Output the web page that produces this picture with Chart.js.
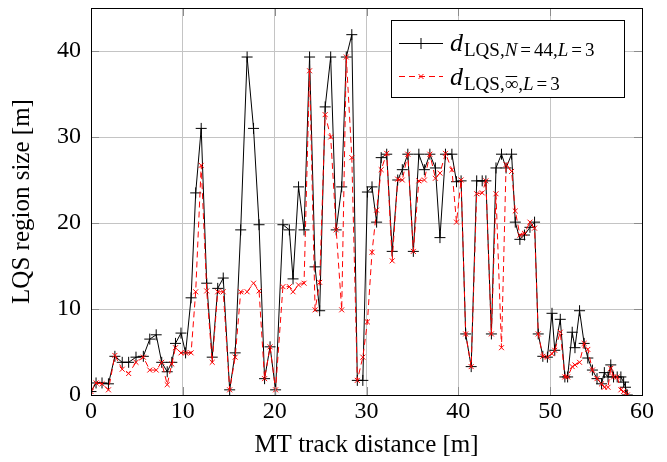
<!DOCTYPE html>
<html>
<head>
<meta charset="utf-8">
<script src="https://cdn.jsdelivr.net/npm/chart.js@4.4.1/dist/chart.umd.min.js"></script>
<style>html,body{margin:0;padding:0;background:#fff}</style>
</head>
<body>
<canvas id="lqsChart" width="667" height="462"></canvas>
<script>
// MT track distance [m]
const trackDist = [0.0, 0.55, 1.2, 1.9, 2.6, 3.4, 4.1, 4.9, 5.7, 6.4, 7.1, 7.7, 8.3, 8.8, 9.2, 9.8,
  10.3, 10.9, 11.4, 12.0, 12.6, 13.2, 13.8, 14.4, 15.1, 15.7, 16.3, 17.0, 17.7, 18.3, 18.9, 19.5,
  20.1, 20.9, 21.6, 22.0, 22.6, 23.2, 23.8, 24.4, 24.9, 25.5, 26.1, 26.7, 27.3, 27.8, 28.4, 29.0,
  29.6, 30.1, 30.6, 31.1, 31.6, 32.2, 32.8, 33.4, 33.9, 34.5, 35.1, 35.7, 36.3, 36.9, 37.5, 38.0,
  38.6, 39.3, 39.8, 40.3, 40.8, 41.4, 42.0, 42.6, 43.0, 43.6, 44.1, 44.7, 45.2, 45.8, 46.2, 46.7,
  47.2, 47.8, 48.3, 48.7, 49.2, 49.7, 50.2, 50.5, 51.1, 51.6, 51.9, 52.4, 52.7, 53.2, 53.7, 54.1,
  54.6, 55.1, 55.6, 55.9, 56.3, 56.6, 56.9, 57.3, 57.7, 58.0, 58.2, 58.4];
// d_LQS,N=44,L=3
const lqsN44 = [0.4, 1.4, 1.4, 1.3, 4.5, 3.8, 3.8, 4.4, 4.5, 6.5, 7.0, 3.8, 2.7, 3.8, 6.0, 7.2,
  4.9, 11.3, 23.5, 31.0, 13.0, 4.4, 12.4, 13.6, 0.6, 4.9, 19.2, 39.3, 31.0, 19.8, 1.9, 5.6,
  0.6, 19.8, 19.2, 13.5, 24.2, 19.2, 39.3, 14.9, 9.8, 33.5, 39.3, 19.2, 24.2, 39.3, 41.9, 1.7,
  1.7, 23.6, 24.2, 20.1, 27.6, 28.0, 16.7, 25.0, 26.2, 28.0, 16.7, 28.0, 26.2, 28.0, 26.4, 18.3,
  28.0, 28.0, 24.8, 24.9, 7.1, 3.3, 24.9, 24.9, 24.9, 7.1, 26.4, 28.0, 26.4, 28.0, 20.1, 18.1,
  18.6, 19.5, 20.1, 7.1, 4.5, 4.4, 9.5, 5.2, 8.8, 2.1, 2.1, 7.3, 5.5, 9.8, 6.0, 4.3,
  2.9, 1.9, 1.3, 2.6, 2.1, 3.5, 2.1, 2.1, 2.1, 1.5, 0.9, 0.0];
// d_LQS,inf,L=3
const lqsInf = [0.4, 1.4, 1.3, 0.6, 4.6, 3.0, 2.5, 3.8, 4.4, 2.9, 2.9, 3.8, 1.2, 3.6, 5.5, 4.9,
  4.9, 4.9, 12.0, 26.7, 12.1, 3.8, 12.0, 12.0, 0.6, 4.4, 12.0, 12.0, 13.0, 12.1, 1.9, 5.6,
  0.6, 12.6, 12.6, 12.0, 12.8, 13.0, 37.7, 9.9, 13.1, 32.6, 30.0, 19.2, 9.9, 39.3, 27.6, 1.7,
  4.4, 8.5, 16.6, 21.5, 26.2, 28.1, 15.6, 25.1, 25.0, 28.0, 16.7, 24.9, 25.0, 28.0, 25.2, 25.8,
  28.1, 26.2, 20.1, 25.0, 7.1, 3.3, 23.4, 23.5, 24.9, 7.1, 23.4, 5.5, 26.8, 26.0, 21.4, 18.6,
  18.8, 20.1, 19.4, 7.1, 4.5, 4.4, 4.8, 5.2, 7.3, 2.1, 2.1, 3.3, 3.5, 3.8, 6.0, 5.3,
  2.9, 1.9, 1.3, 0.9, 0.9, 3.1, 2.1, 2.1, 0.6, 0.4, 0.2, 0.0];
const xTicks = [0, 10, 20, 30, 40, 50, 60];
const yTicks = [0, 10, 20, 30, 40];

const serif = "'Liberation Serif', 'Times New Roman', serif";

function toPoints(ys) {
  return trackDist.map((x, i) => ({x: x, y: ys[i]}));
}

// writes a formula like d_{LQS,N=44,L=3}, returns end x
function drawFormula(ctx, x, base, parts) {
  ctx.textBaseline = 'alphabetic';
  ctx.textAlign = 'left';
  parts.forEach(p => {
    if (p.gap) { x += p.gap; return; }
    const size = p.sub ? 19 : 26;
    ctx.font = (p.it ? 'italic ' : '') + size + 'px ' + serif;
    const y = p.sub ? base + 5 : base;
    ctx.fillText(p.t, x, y);
    const w = ctx.measureText(p.t).width;
    if (p.bar) {
      ctx.beginPath();
      ctx.lineWidth = 1;
      ctx.moveTo(x + 1, y - 13.5);
      ctx.lineTo(x + w - 1, y - 13.5);
      ctx.stroke();
    }
    x += w;
  });
  return x;
}

const framePlugin = {
  id: 'frame',
  afterDraw(chart) {
    const ctx = chart.ctx;
    const a = chart.chartArea;
    const sx = chart.scales.x, sy = chart.scales.y;
    ctx.save();
    // inner tick marks
    ctx.strokeStyle = '#8c8c8c';
    ctx.lineWidth = 1;
    ctx.beginPath();
    xTicks.slice(1, -1).forEach(v => {
      const px = Math.round(sx.getPixelForValue(v)) + 0.5;
      ctx.moveTo(px, a.bottom); ctx.lineTo(px, a.bottom - 8);
      ctx.moveTo(px, a.top); ctx.lineTo(px, a.top + 8);
    });
    yTicks.slice(1).forEach(v => {
      const py = Math.round(sy.getPixelForValue(v)) + 0.5;
      ctx.moveTo(a.left, py); ctx.lineTo(a.left + 8, py);
      ctx.moveTo(a.right, py); ctx.lineTo(a.right - 8, py);
    });
    ctx.stroke();
    // axis box
    ctx.strokeStyle = '#000';
    ctx.strokeRect(Math.round(a.left) + 0.5, Math.round(a.top) + 0.5,
      Math.round(a.right - a.left), Math.round(a.bottom - a.top));

    // legend
    const lx = 391.5, ly = 20.5, lw = 233, lh = 77;
    ctx.fillStyle = '#fff';
    ctx.fillRect(lx, ly, lw, lh);
    ctx.strokeRect(lx, ly, lw, lh);
    const rows = [
      {y: 43, ds: chart.data.datasets[0]},
      {y: 76, ds: chart.data.datasets[1]}
    ];
    rows.forEach(r => {
      ctx.strokeStyle = r.ds.borderColor;
      ctx.lineWidth = 1;
      ctx.setLineDash(r.ds.borderDash || []);
      ctx.beginPath();
      ctx.moveTo(399, r.y + 0.5);
      ctx.lineTo(443, r.y + 0.5);
      ctx.stroke();
      ctx.setLineDash([]);
      Chart.helpers.drawPoint(ctx, {
        pointStyle: r.ds.pointStyle, radius: r.ds.pointRadius,
        borderWidth: 1, rotation: 0
      }, 421, r.y + 0.5);
    });
    ctx.fillStyle = '#000';
    ctx.strokeStyle = '#000';
    drawFormula(ctx, 450, 51, [
      {t: 'd', it: true}, {gap: 1}, {t: 'LQS,', sub: true}, {t: 'N', sub: true, it: true},
      {gap: 3}, {t: '=', sub: true}, {gap: 3}, {t: '44,', sub: true},
      {t: 'L', sub: true, it: true}, {gap: 3}, {t: '=', sub: true}, {gap: 3}, {t: '3', sub: true}
    ]);
    drawFormula(ctx, 450, 85, [
      {t: 'd', it: true}, {gap: 1}, {t: 'LQS,', sub: true}, {t: '\u221E', sub: true, bar: true},
      {t: ',', sub: true}, {t: 'L', sub: true, it: true},
      {gap: 3}, {t: '=', sub: true}, {gap: 3}, {t: '3', sub: true}
    ]);
    ctx.restore();
  }
};

new Chart(document.getElementById('lqsChart'), {
  type: 'line',
  data: {
    datasets: [
      {
        label: 'd_LQS,N=44,L=3',
        data: toPoints(lqsN44),
        borderColor: '#000',
        backgroundColor: '#000',
        borderWidth: 1,
        pointStyle: 'cross',
        pointRadius: 5.5,
        pointBorderWidth: 1,
        order: 2
      },
      {
        label: 'd_LQS,\u221E,L=3',
        data: toPoints(lqsInf),
        borderColor: '#ff0000',
        backgroundColor: '#ff0000',
        borderWidth: 1,
        borderDash: [6, 4],
        pointStyle: 'crossRot',
        pointRadius: 3.5,
        pointBorderWidth: 1,
        order: 1
      }
    ]
  },
  options: {
    responsive: false,
    animation: false,
    layout: {padding: {top: 8, right: 25, left: 0, bottom: 0}},
    elements: {line: {tension: 0}, point: {hoverRadius: 5}},
    plugins: {legend: {display: false}, tooltip: {enabled: false}},
    scales: {
      x: {
        type: 'linear',
        min: 0, max: 60,
        afterBuildTicks: s => { s.ticks = xTicks.map(v => ({value: v})); },
        afterFit: s => { s.height = 67; s.paddingLeft = 0; s.paddingRight = 0; },
        grid: {color: '#c4c4c4', drawTicks: false},
        border: {color: '#000'},
        ticks: {color: '#000', padding: 2, maxRotation: 0, font: {family: serif, size: 24}},
        title: {
          display: true, text: 'MT track distance [m]', color: '#000',
          font: {family: serif, size: 25, lineHeight: 1}, padding: {bottom: 4}
        }
      },
      y: {
        min: 0, max: 45,
        afterBuildTicks: s => { s.ticks = yTicks.map(v => ({value: v})); },
        afterFit: s => { s.width = 91; s.paddingTop = 0; s.paddingBottom = 0; },
        grid: {color: '#c4c4c4', drawTicks: false},
        border: {color: '#000'},
        ticks: {color: '#000', padding: 10, font: {family: serif, size: 24}},
        title: {
          display: true, text: 'LQS region size [m]', color: '#000',
          font: {family: serif, size: 25, lineHeight: 1}, padding: {top: 10}
        }
      }
    }
  },
  plugins: [framePlugin]
});
</script>
</body>
</html>
